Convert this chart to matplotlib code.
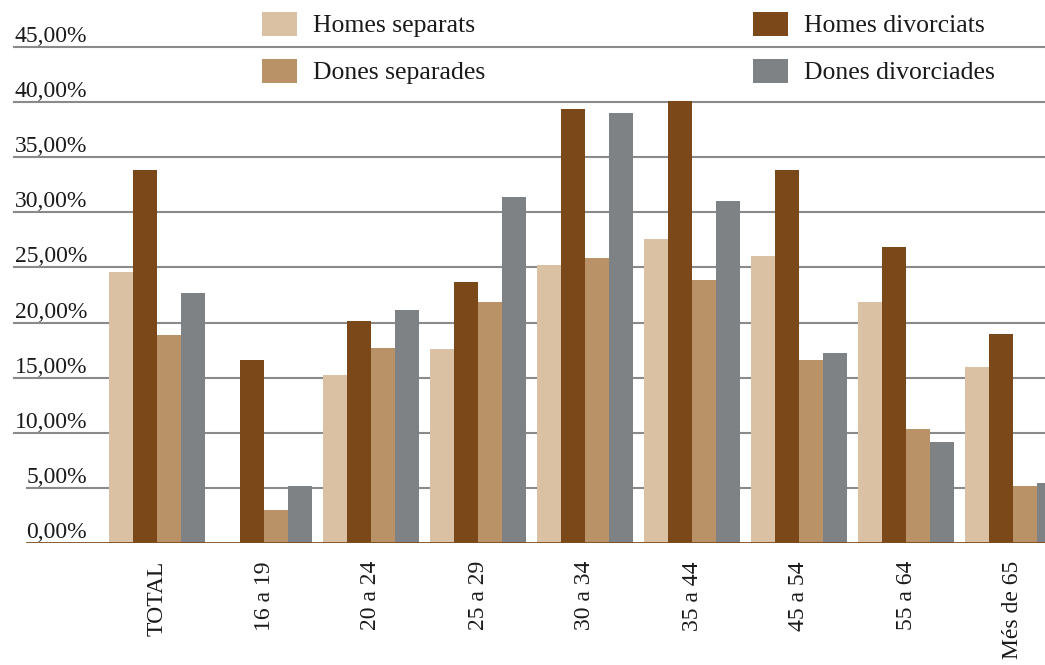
import numpy as np
import matplotlib
matplotlib.use("Agg")
import matplotlib.pyplot as plt
from matplotlib.patches import Rectangle

categories = ["TOTAL", "16 a 19", "20 a 24", "25 a 29", "30 a 34",
              "35 a 44", "45 a 54", "55 a 64", "Més de 65"]
homes_separats = [24.6, 0.0, 15.2, 17.6, 25.2, 27.6, 26.0, 21.9, 16.0]
homes_divorciats = [33.8, 16.6, 20.1, 23.7, 39.4, 40.1, 33.8, 26.9, 19.0]
dones_separades = [18.9, 3.0, 17.7, 21.9, 25.9, 23.9, 16.6, 10.3, 5.2]
dones_divorciades = [22.7, 5.2, 21.1, 31.4, 39.0, 31.0, 17.2, 9.2, 5.4]
yticks = [0, 5, 10, 15, 20, 25, 30, 35, 40, 45]
ytick_labels = ["0,00%", "5,00%", "10,00%", "15,00%", "20,00%", "25,00%",
                "30,00%", "35,00%", "40,00%", "45,00%"]

series = [
    ("Homes separats", homes_separats, "#dbc1a4"),
    ("Homes divorciats", homes_divorciats, "#7a4819"),
    ("Dones separades", dones_separades, "#b99268"),
    ("Dones divorciades", dones_divorciades, "#7f8285"),
]

plt.rcParams['font.family'] = ['Liberation Serif', 'DejaVu Serif']

W, H = 1045, 665
fig = plt.figure(figsize=(W / 100, H / 100), dpi=100)
ax_left, ax_right, ax_bottom, ax_top = 14, 1045, 543, 47
ax = fig.add_axes([ax_left / W, (H - ax_bottom) / H,
                   (ax_right - ax_left) / W, (ax_bottom - ax_top) / H])

x = np.arange(len(categories))
w = 24 / 107
for k, (name, vals, col) in enumerate(series):
    ax.bar(x + (k - 1.5) * w, vals, width=w, color=col, linewidth=0, zorder=2)

ax.set_xlim((ax_left - 157) / 107, (ax_right - 157) / 107)
ax.set_ylim(0, 45)

# gridlines and labels
for v, lab in zip(yticks, ytick_labels):
    if v == 0:
        ax.axhline(0, xmin=13 / 1031, color="#7e4e22", lw=2.0, zorder=3)
    else:
        xmin = 13 / 1031 if v <= 5 else 0
        ax.axhline(v, xmin=xmin, color="#8a8a8a", lw=1.5, zorder=1, clip_on=False)
    ax.text((87 - ax_left) / 1031, v + 0.45, lab, transform=ax.get_yaxis_transform(),
            ha="right", va="baseline", fontsize=17, color="#1a1a1a")

ax.set_yticks([])
ax.set_xticks(x)
ax.set_xticklabels(categories, rotation=90, fontsize=17, color="#1a1a1a")
ax.tick_params(axis="x", length=0, pad=13)
for s in ax.spines.values():
    s.set_visible(False)

# legend
legend_pos = [(262, 12, 0), (262, 59, 2), (753, 12, 1), (753, 59, 3)]
for lx, ly, k in legend_pos:
    name, _, col = series[k]
    fig.add_artist(Rectangle((lx / W, (H - ly - 24) / H), 35 / W, 24 / H,
                             transform=fig.transFigure, color=col, lw=0))
    fig.text((lx + 51) / W, (H - ly - 20) / H, name, fontsize=18.5,
             color="#1a1a1a", ha="left", va="baseline")

fig.savefig("out.png", dpi=100)
